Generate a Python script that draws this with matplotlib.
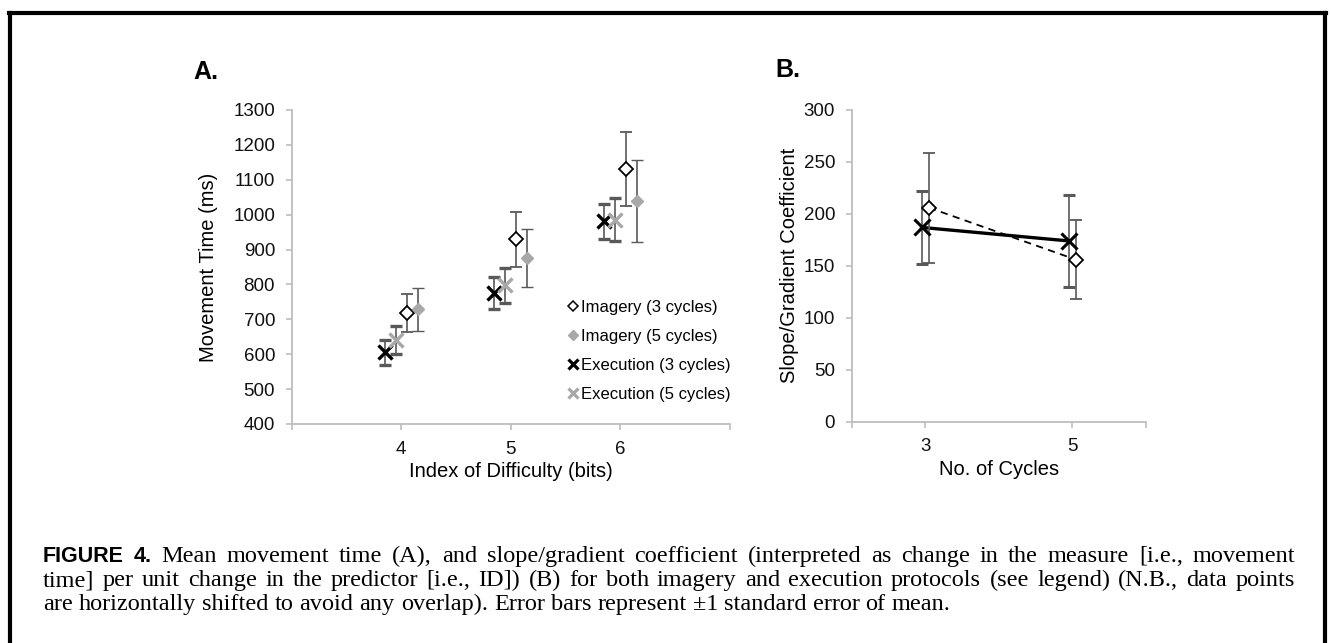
import numpy as np
import matplotlib
matplotlib.use("Agg")
import matplotlib.pyplot as plt
from matplotlib.lines import Line2D

plt.rcParams["font.family"] = ["Liberation Sans", "DejaVu Sans"]

## panel A: movement time per index of difficulty
id_levels = [4, 5, 6]
img3_mt = [719, 930, 1131]
img3_se = [55, 79, 107]
img5_mt = [729, 876, 1040]
img5_se = [62, 84, 118]
exe3_mt = [605, 776, 981]
exe3_se = [37, 45, 51]
exe5_mt = [641, 797, 986]
exe5_se = [39, 49, 61]
## horizontal shift of each series (to avoid overlap)
shift_img3, shift_img5, shift_exe3, shift_exe5 = 0.05, 0.15, -0.15, -0.05

## panel B: slope coefficient per number of cycles
cycles = [3, 5]
img_slope = [206, 156]
img_slope_se = [53, 38]
exe_slope = [187, 174]
exe_slope_se = [35, 44]
shift_img_b, shift_exe_b = 0.05, -0.05

legend_labels = ["Imagery (3 cycles)", "Imagery (5 cycles)",
                 "Execution (3 cycles)", "Execution (5 cycles)"]

W, H = 1331, 643
fig = plt.figure(figsize=(W / 100, H / 100), dpi=100)

axis_col = "#bdbdbd"
err_col = "#595959"
grey = "#a8a8a8"


def style_axis(ax):
    for s in ["top", "right"]:
        ax.spines[s].set_visible(False)
    for s in ["left", "bottom"]:
        ax.spines[s].set_color(axis_col)
        ax.spines[s].set_linewidth(1.3)
    ax.tick_params(direction="out", length=4, width=1.2, color=axis_col,
                   labelsize=13.5, pad=8, labelcolor="#111111")


def fx(px):
    return px / W


def fy(py):
    return 1 - py / H


## ---------- panel A
axA = fig.add_axes([fx(291.7), fy(424), fx(730 - 291.7), (424 - 110) / H])
x = np.array(id_levels)
ebkw = dict(ecolor=err_col, elinewidth=1.2, capsize=4.5, capthick=1.2, linestyle="none")
axA.errorbar(x + shift_exe3, exe3_mt, yerr=exe3_se, fmt="x", color="black",
             ms=9.5, mew=2.4, **ebkw)
axA.errorbar(x + shift_exe5, exe5_mt, yerr=exe5_se, fmt="x", color=grey,
             ms=9.5, mew=2.4, **ebkw)
axA.errorbar(x + shift_img3, img3_mt, yerr=img3_se, fmt="D", mfc="white", mec="black",
             ms=7.5, mew=1.3, **ebkw)
axA.errorbar(x + shift_img5, img5_mt, yerr=img5_se, fmt="D", mfc=grey, mec=grey,
             ms=6.5, mew=1.0, **ebkw)
axA.set_xlim(3, 7)
axA.set_ylim(400, 1300)
axA.set_xticks([3, 4, 5, 6, 7])
axA.set_xticklabels(["", "4", "5", "6", ""])
axA.set_yticks(np.arange(400, 1301, 100))
style_axis(axA)
axA.set_xlabel("Index of Difficulty (bits)", fontsize=14.5, labelpad=3)
axA.set_ylabel("Movement Time (ms)", fontsize=14.5, labelpad=11)

handles = [
    Line2D([], [], ls="none", marker="D", mfc="white", mec="black", ms=5.5, mew=1.1),
    Line2D([], [], ls="none", marker="D", mfc=grey, mec=grey, ms=5.5),
    Line2D([], [], ls="none", marker="x", color="black", ms=7.5, mew=2.3),
    Line2D([], [], ls="none", marker="x", color=grey, ms=7.5, mew=2.3),
]
fig.legend(handles, legend_labels, loc="upper left",
           bbox_to_anchor=(fx(566), fy(300)), frameon=False, fontsize=12,
           handlelength=0.8, handletextpad=0.12, labelspacing=0.83, borderpad=0,
           borderaxespad=0)

## ---------- panel B
axB = fig.add_axes([fx(851.7), fy(421.7), fx(1145.7 - 851.7), (421.7 - 110) / H])
c = np.array(cycles)
axB.errorbar(c + shift_img_b, img_slope, yerr=img_slope_se, fmt="D", mfc="white",
             mec="black", ms=7.5, mew=1.3, **ebkw)
axB.plot(c + shift_img_b, img_slope, color="black", lw=1.3, ls=(0, (4, 3)), zorder=1)
axB.errorbar(c + shift_exe_b, exe_slope, yerr=exe_slope_se, fmt="x", color="black",
             ms=11, mew=2.2, **ebkw)
axB.plot(c + shift_exe_b, exe_slope, color="black", lw=2.4, zorder=1)
axB.set_xlim(2, 6)
axB.set_ylim(0, 300)
axB.set_xticks([2, 3, 5, 6])
axB.set_xticklabels(["", "3", "5", ""])
axB.set_yticks(np.arange(0, 301, 50))
style_axis(axB)
axB.set_xlabel("No. of Cycles", fontsize=14.5, labelpad=3)
axB.set_ylabel("Slope/Gradient Coefficient", fontsize=14.5, labelpad=3)

## panel letters
fig.text(fx(193), fy(79), "A.", fontsize=18, fontweight="bold", va="baseline")
fig.text(fx(775), fy(77), "B.", fontsize=18, fontweight="bold", va="baseline")

## ---------- frame
fw = 3.0
fig.add_artist(Line2D([fx(10), fx(10)], [0, fy(13)], color="black", lw=fw))
fig.add_artist(Line2D([fx(1325), fx(1325)], [0, fy(13)], color="black", lw=fw))
fig.add_artist(Line2D([fx(9), fx(1326)], [fy(13), fy(13)], color="black", lw=fw))

## ---------- caption (justified lines)
lines = [
    [("FIGURE", True), ("4.", True)] + [(w, False) for w in
        "Mean movement time (A), and slope/gradient coefficient (interpreted as change in the measure [i.e., movement".split()],
    [(w, False) for w in
        "time] per unit change in the predictor [i.e., ID]) (B) for both imagery and execution protocols (see legend) (N.B., data points".split()],
    [(w, False) for w in
        "are horizontally shifted to avoid any overlap). Error bars represent ±1 standard error of mean.".split()],
]
cap_size = 17.5
baselines = [562, 586, 610]
x_left, x_right = 43, 1295
renderer = fig.canvas.get_renderer()
for li, (words, base) in enumerate(zip(lines, baselines)):
    texts = []
    for w, bold in words:
        if bold:
            t = fig.text(0, fy(base), w, fontsize=15.5, fontweight="bold",
                         family=["Liberation Sans", "DejaVu Sans"], va="baseline")
        else:
            t = fig.text(0, fy(base), w, fontsize=cap_size,
                         family=["Liberation Serif", "DejaVu Serif"], va="baseline")
        texts.append(t)
    widths = [t.get_window_extent(renderer).width for t in texts]
    if li < len(lines) - 1:
        gap = (x_right - x_left - sum(widths)) / (len(texts) - 1)
    else:
        gap = 0.25 * cap_size * 100 / 72
    pos = x_left
    for t, wd in zip(texts, widths):
        t.set_x(fx(pos))
        pos += wd + gap

fig.savefig("out.png", dpi=100)
plt.close("all")
